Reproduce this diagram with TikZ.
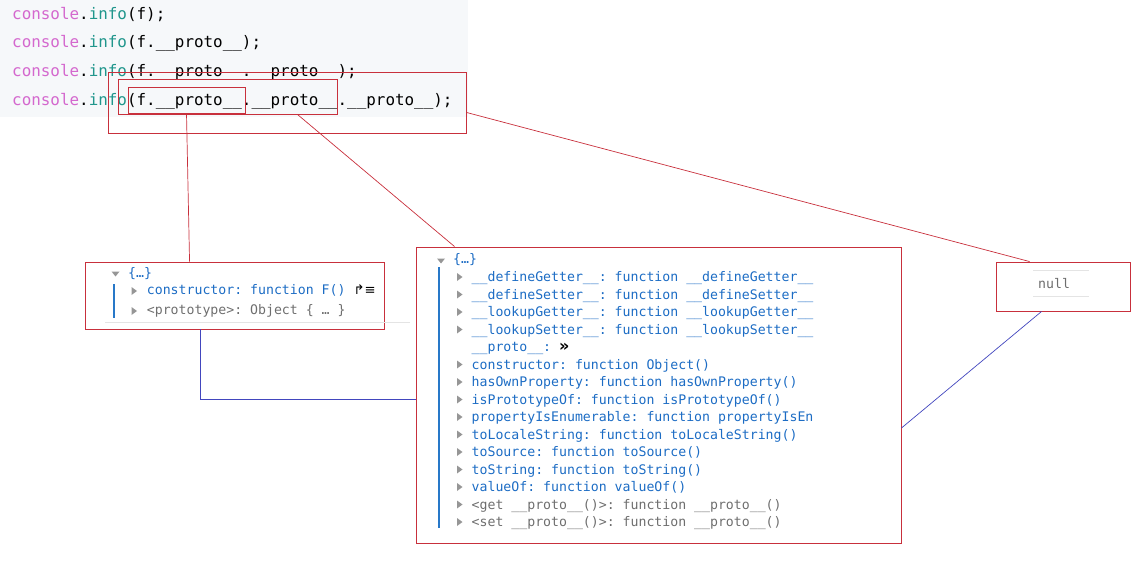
\documentclass[tikz,border=0pt]{standalone}
\usepackage{fontspec}
\setmonofont{DejaVu Sans Mono}
\newfontfamily\symf{DejaVu Sans}
\usetikzlibrary{calc}
\definecolor{redb}{RGB}{200,48,60}
\definecolor{codebg}{RGB}{246,248,250}
\definecolor{cpink}{RGB}{212,104,206}
\definecolor{cteal}{RGB}{32,150,140}
\definecolor{tblue}{RGB}{28,108,196}
\definecolor{tgray}{RGB}{110,110,110}
\definecolor{trig}{RGB}{150,150,150}
\definecolor{vline}{RGB}{40,120,200}
\definecolor{cblue}{RGB}{66,70,190}
\definecolor{faint}{RGB}{228,228,228}
\newcommand{\cl}[1]{\textcolor{cpink}{console}.\textcolor{cteal}{info}#1}
\newcommand{\rtri}[2]{\fill[trig] (#1,#2-4) -- (#1,#2+4) -- (#1+5.5,#2) -- cycle;}
\newcommand{\dtri}[2]{\fill[trig] (#1,#2-2.5) -- (#1+8,#2-2.5) -- (#1+4,#2+2.5) -- cycle;}
\tikzset{
  code/.style={anchor=base west, inner sep=0, font=\ttfamily\fontsize{15.9}{18}\selectfont, text=black},
  row/.style={anchor=base west, inner sep=0, font=\ttfamily\fontsize{13.2}{16}\selectfont, text=tblue},
  grayrow/.style={row, text=tgray},
  redbox/.style={draw=redb, line width=0.9pt, inner sep=0},
  redline/.style={draw=redb, line width=0.7pt},
  blueline/.style={draw=cblue, line width=0.7pt},
  treeline/.style={draw=vline, line width=1.1pt},
  faintline/.style={draw=faint, line width=0.8pt}
}
\begin{document}
\begin{tikzpicture}[x=1pt,y=-1pt]
\useasboundingbox (0,0) rectangle (1147,564);
\fill[codebg] (0,0) rectangle (468,117);
% code
\node[code] (c1) at (12,19.5) {\cl{(f);}};
\node[code] (c2) at (12,48) {\cl{(f.\_\_proto\_\_);}};
\node[code] (c3) at (12,77) {\cl{(f.\_\_proto\_\_.\_\_proto\_\_);}};
\node[code] (c4) at (12,105.5) {\cl{(f.\_\_proto\_\_.\_\_proto\_\_.\_\_proto\_\_);}};
% red boxes on code
\node[redbox, minimum width=358pt, minimum height=61pt] (bigbox) at (287,102.5) {};
\node[redbox, minimum width=219pt, minimum height=35pt] (midbox) at (227.5,96.5) {};
\node[redbox, minimum width=117pt, minimum height=26pt] (smallbox) at (186.5,100) {};
% left box
\node[redbox, minimum width=299pt, minimum height=67pt] (leftbox) at (234.5,295.5) {};
\draw[faintline] (105,322) -- (410,322);
\dtri{111.5}{274}
\node[row] (lh) at (128,277) {\{…\}};
\draw[treeline] (114,284) -- (114,318);
\rtri{131.5}{291}
\rtri{131.5}{311}
\node[row] (l1) at (146.7,294.5) {constructor: function F() \textcolor{black}{\symf ↱≡}};
\node[grayrow] (l2) at (146.7,314.5) {<prototype>: Object \{ … \}};
% right box
\node[redbox, minimum width=485pt, minimum height=296pt] (rightbox) at (658.5,395) {};
\dtri{437}{261}
\node[row] (rh) at (453,263.5) {\{…\}};
\draw[treeline] (439,267) -- (439,528);
\foreach \k in {0,1,2,3,5,6,7,8,9,10,11,12,13,14}{\rtri{457}{277+17.5*\k}}
\node[row] (r1) at (471.5,281.5) {\_\_defineGetter\_\_: function \_\_defineGetter\_\_};
\node[row] (r2) at (471.5,299) {\_\_defineSetter\_\_: function \_\_defineSetter\_\_};
\node[row] (r3) at (471.5,316.5) {\_\_lookupGetter\_\_: function \_\_lookupGetter\_\_};
\node[row] (r4) at (471.5,334) {\_\_lookupSetter\_\_: function \_\_lookupSetter\_\_};
\node[row] (r5) at (471.5,351.5) {\_\_proto\_\_: \textcolor{black}{\symf\bfseries\fontsize{16}{16}\selectfont »}};
\node[row] (r6) at (471.5,369) {constructor: function Object()};
\node[row] (r7) at (471.5,386.5) {hasOwnProperty: function hasOwnProperty()};
\node[row] (r8) at (471.5,404) {isPrototypeOf: function isPrototypeOf()};
\node[row] (r9) at (471.5,421.5) {propertyIsEnumerable: function propertyIsEn};
\node[row] (r10) at (471.5,439) {toLocaleString: function toLocaleString()};
\node[row] (r11) at (471.5,456.5) {toSource: function toSource()};
\node[row] (r12) at (471.5,474) {toString: function toString()};
\node[row] (r13) at (471.5,491.5) {valueOf: function valueOf()};
\node[grayrow] (r14) at (471.5,509) {<get \_\_proto\_\_()>: function \_\_proto\_\_()};
\node[grayrow] (r15) at (471.5,526.5) {<set \_\_proto\_\_()>: function \_\_proto\_\_()};
% null box
\node[redbox, minimum width=134pt, minimum height=49pt] (nullbox) at (1063,286.5) {};
\draw[faintline] (1033,270) -- (1089,270);
\draw[faintline] (1033,296) -- (1089,296);
\node[grayrow] (nulltxt) at (1038,288.5) {null};
% connectors
\draw[redline] (smallbox.south) -- ($(leftbox.north west)+(105,0)$);
\draw[redline] ($(midbox.south east)+(-40,0)$) -- ($(rightbox.north west)+(39,0)$);
\draw[redline] ($(bigbox.south east)+(0,-21)$) -- ($(nullbox.north west)+(34,0)$);
\draw[blueline] ($(leftbox.south west)+(116,0)$) |- ($(rightbox.west)+(0,4)$);
\draw[blueline] ($(nullbox.south west)+(46,0)$) -- ($(rightbox.east)+(0,33)$);
\end{tikzpicture}
\end{document}
